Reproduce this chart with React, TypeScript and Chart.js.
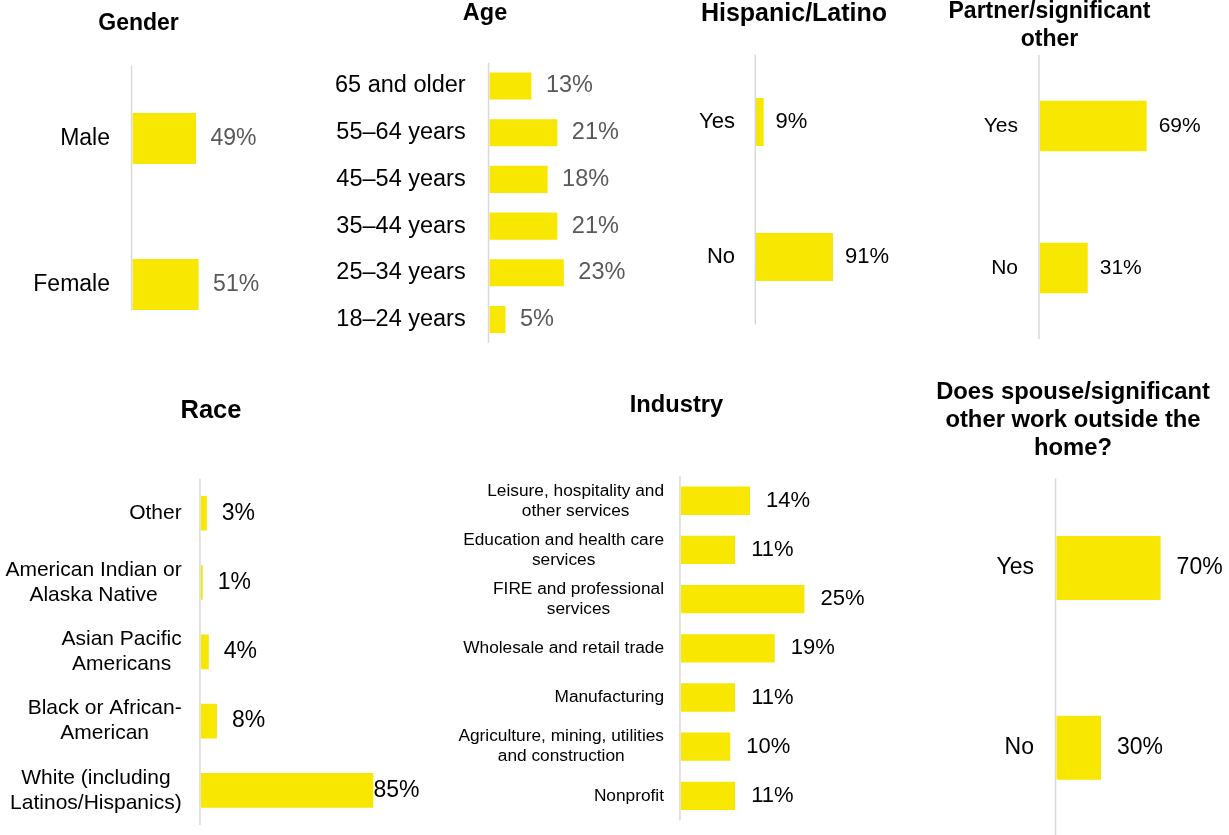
import React, { useEffect, useRef } from 'react';
import { Chart, registerables } from 'chart.js';

Chart.register(...registerables);

const FONT = '"Liberation Sans", Arial, Helvetica, sans-serif';
const BAR_YELLOW = '#F8E700';
const AXIS_GRAY = '#D9D9D9';
const VALUE_GRAY = '#595959';
const TEXT_BLACK = '#000000';

// ---------- data ----------
const genderCategories = ['Male', 'Female'];
const genderValues = [49, 51];

const ageCategories = ['65 and older', '55–64 years', '45–54 years', '35–44 years', '25–34 years', '18–24 years'];
const ageValues = [13, 21, 18, 21, 23, 5];

const hispanicCategories = ['Yes', 'No'];
const hispanicValues = [9, 91];

const partnerCategories = ['Yes', 'No'];
const partnerValues = [69, 31];

const raceCategories = [
  ['Other'],
  ['American Indian or', 'Alaska Native'],
  ['Asian Pacific', 'Americans'],
  ['Black or African-', 'American'],
  ['White (including', 'Latinos/Hispanics)'],
];
const raceValues = [3, 1, 4, 8, 85];

const industryCategories = [
  ['Leisure, hospitality and', 'other services'],
  ['Education and health care', 'services'],
  ['FIRE and professional', 'services'],
  ['Wholesale and retail trade'],
  ['Manufacturing'],
  ['Agriculture, mining, utilities', 'and construction'],
  ['Nonprofit'],
];
const industryValues = [14, 11, 25, 19, 11, 10, 11];

const spouseCategories = ['Yes', 'No'];
const spouseValues = [70, 30];

// ---------- panel layout ----------
type Label = string | string[];
interface PanelSpec {
  id: string;
  title: string[];
  titleSize: number;
  titleLH: number;
  titleX: number;
  titleY: number;
  canvasLeft: number;
  categories: Label[];
  values: number[];
  axisX: number;
  plotTop: number;
  plotBottom: number;
  pxPerPct: number;
  barPct: number;
  labelSize: number;
  labelLH: number;
  labelGap: number;
  valueSize: number;
  valueColor: string;
  valueGap: number;
  valueMaxRight?: number;
  axisEnd?: number;
}

const panels: PanelSpec[] = [
  {
    id: 'gender', title: ['Gender'], titleSize: 23, titleLH: 27, titleX: 138.5, titleY: 24, canvasLeft: 0,
    categories: genderCategories, values: genderValues,
    axisX: 132.3, plotTop: 65.5, plotBottom: 357.5, pxPerPct: 1.3, barPct: 0.35,
    labelSize: 23, labelLH: 27, labelGap: 22.3,
    valueSize: 23, valueColor: VALUE_GRAY, valueGap: 14.5, axisEnd: 1.18,
  },
  {
    id: 'age', title: ['Age'], titleSize: 23.5, titleLH: 27, titleX: 485, titleY: 13.3, canvasLeft: 325,
    categories: ageCategories, values: ageValues,
    axisX: 489.3, plotTop: 62.65, plotBottom: 342.85, pxPerPct: 3.24, barPct: 0.58,
    labelSize: 23.5, labelLH: 27, labelGap: 23.6,
    valueSize: 23.5, valueColor: VALUE_GRAY, valueGap: 14.5,
  },
  {
    id: 'hispanic', title: ['Hispanic/Latino'], titleSize: 25, titleLH: 29, titleX: 794, titleY: 13.9, canvasLeft: 690,
    categories: hispanicCategories, values: hispanicValues,
    axisX: 756, plotTop: 54.5, plotBottom: 324.5, pxPerPct: 0.846, barPct: 0.356,
    labelSize: 22, labelLH: 26, labelGap: 21,
    valueSize: 22, valueColor: TEXT_BLACK, valueGap: 12,
  },
  {
    id: 'partner', title: ['Partner/significant', 'other'], titleSize: 23, titleLH: 27.8, titleX: 1049.5, titleY: 11.7, canvasLeft: 880,
    categories: partnerCategories, values: partnerValues,
    axisX: 1039.7, plotTop: 55, plotBottom: 339, pxPerPct: 1.55, barPct: 0.356,
    labelSize: 21, labelLH: 25, labelGap: 21.7,
    valueSize: 21, valueColor: TEXT_BLACK, valueGap: 12,
  },
  {
    id: 'race', title: ['Race'], titleSize: 25.5, titleLH: 30, titleX: 211, titleY: 410.8, canvasLeft: 0,
    categories: raceCategories, values: raceValues,
    axisX: 200.7, plotTop: 478.65, plotBottom: 825, pxPerPct: 2.03, barPct: 0.5,
    labelSize: 21, labelLH: 25, labelGap: 19,
    valueSize: 23, valueColor: TEXT_BLACK, valueGap: 15, valueMaxRight: 419.5,
  },
  {
    id: 'industry', title: ['Industry'], titleSize: 23.7, titleLH: 28, titleX: 676.7, titleY: 405, canvasLeft: 450,
    categories: industryCategories, values: industryValues,
    axisX: 680.7, plotTop: 476.2, plotBottom: 820.4, pxPerPct: 4.95, barPct: 0.576,
    labelSize: 17.3, labelLH: 20, labelGap: 16.7,
    valueSize: 22, valueColor: TEXT_BLACK, valueGap: 16,
  },
  {
    id: 'spouse', title: ['Does spouse/significant', 'other work outside the', 'home?'], titleSize: 23.8, titleLH: 27.6,
    titleX: 1073, titleY: 392.8, canvasLeft: 918,
    categories: spouseCategories, values: spouseValues,
    axisX: 1056.3, plotTop: 478.2, plotBottom: 837.5, pxPerPct: 1.49, barPct: 0.356,
    labelSize: 23, labelLH: 27, labelGap: 22.3,
    valueSize: 23, valueColor: TEXT_BLACK, valueGap: 16,
  },
];

function geometry(p: PanelSpec) {
  const width = Math.round(2 * (p.titleX - p.canvasLeft));
  const top = Math.floor(p.titleY - p.titleLH / 2) - 2;
  const padTop = p.titleY - p.titleLH / 2 - top;
  const padBottomTitle = p.plotTop - top - padTop - p.title.length * p.titleLH;
  const height = Math.ceil(p.plotBottom - top) + 2;
  const layoutBottom = height - (p.plotBottom - top);
  const yWidth = p.axisX - p.canvasLeft;
  const xMax = (p.canvasLeft + width - p.axisX) / p.pxPerPct;
  return { width, top, padTop, padBottomTitle, height, layoutBottom, yWidth, xMax };
}

function makeDecor(p: PanelSpec) {
  return {
    id: 'panelDecor_' + p.id,
    afterDatasetsDraw(chart: any) {
      const ctx = chart.ctx as CanvasRenderingContext2D;
      const area = chart.chartArea;
      const yScale = chart.scales.y;
      ctx.save();
      // axis line
      const lineBottom = p.axisEnd !== undefined ? yScale.getPixelForValue(p.axisEnd) : area.bottom;
      ctx.strokeStyle = AXIS_GRAY;
      ctx.lineWidth = 1.5;
      ctx.beginPath();
      ctx.moveTo(area.left - 0.75, area.top);
      ctx.lineTo(area.left - 0.75, lineBottom);
      ctx.stroke();

      // category labels (block right-aligned, lines centred)
      ctx.font = `${p.labelSize}px ${FONT}`;
      ctx.fillStyle = TEXT_BLACK;
      ctx.textBaseline = 'middle';
      ctx.textAlign = 'center';
      const labels = chart.data.labels as Label[];
      labels.forEach((lab, i) => {
        const lines = Array.isArray(lab) ? lab : [lab];
        const maxW = Math.max(...lines.map((l) => ctx.measureText(l).width));
        const cx = area.left - p.labelGap - maxW / 2;
        const cy = yScale.getPixelForTick(i);
        lines.forEach((l, j) => {
          ctx.fillText(l, cx, cy + (j - (lines.length - 1) / 2) * p.labelLH);
        });
      });

      // value labels
      ctx.font = `${p.valueSize}px ${FONT}`;
      ctx.fillStyle = p.valueColor;
      ctx.textAlign = 'left';
      const meta = chart.getDatasetMeta(0);
      const data = chart.data.datasets[0].data as number[];
      meta.data.forEach((bar: any, i: number) => {
        const text = `${data[i]}%`;
        let x = bar.x + p.valueGap;
        if (p.valueMaxRight !== undefined) {
          const w = ctx.measureText(text).width;
          x = Math.min(x, p.valueMaxRight - p.canvasLeft - w);
        }
        ctx.fillText(text, x, bar.y);
      });
      ctx.restore();
    },
  };
}

function Panel({ p }: { p: PanelSpec }) {
  const ref = useRef<HTMLCanvasElement | null>(null);
  const g = geometry(p);
  useEffect(() => {
    if (!ref.current) return;
    const chart = new Chart(ref.current, {
      type: 'bar',
      data: {
        labels: p.categories as any,
        datasets: [
          {
            data: p.values,
            backgroundColor: BAR_YELLOW,
            borderWidth: 0,
            categoryPercentage: 1,
            barPercentage: p.barPct,
          },
        ],
      },
      options: {
        indexAxis: 'y',
        animation: false,
        responsive: false,
        maintainAspectRatio: false,
        events: [],
        layout: { padding: { left: 0, right: 0, top: 0, bottom: g.layoutBottom } },
        plugins: {
          legend: { display: false },
          tooltip: { enabled: false },
          title: {
            display: true,
            text: p.title,
            color: TEXT_BLACK,
            align: 'center',
            font: { family: FONT, size: p.titleSize, weight: 'bold', lineHeight: p.titleLH / p.titleSize },
            padding: { top: g.padTop, bottom: g.padBottomTitle },
          },
        },
        scales: {
          x: { type: 'linear', display: false, min: 0, max: g.xMax },
          y: {
            type: 'category',
            display: true,
            grid: { display: false, drawTicks: false },
            border: { display: false },
            ticks: { display: false },
            afterFit: (scale: any) => {
              scale.width = g.yWidth;
            },
          },
        },
      },
      plugins: [makeDecor(p)],
    });
    return () => chart.destroy();
  }, []);
  return (
    <canvas
      ref={ref}
      width={g.width}
      height={g.height}
      style={{ position: 'absolute', left: p.canvasLeft, top: g.top, width: g.width, height: g.height }}
    />
  );
}

export default function App() {
  return (
    <div
      style={{
        position: 'absolute',
        left: 0,
        top: 0,
        width: 1229,
        height: 835,
        overflow: 'hidden',
        background: '#ffffff',
      }}
    >
      {panels.map((p) => (
        <Panel key={p.id} p={p} />
      ))}
    </div>
  );
}
